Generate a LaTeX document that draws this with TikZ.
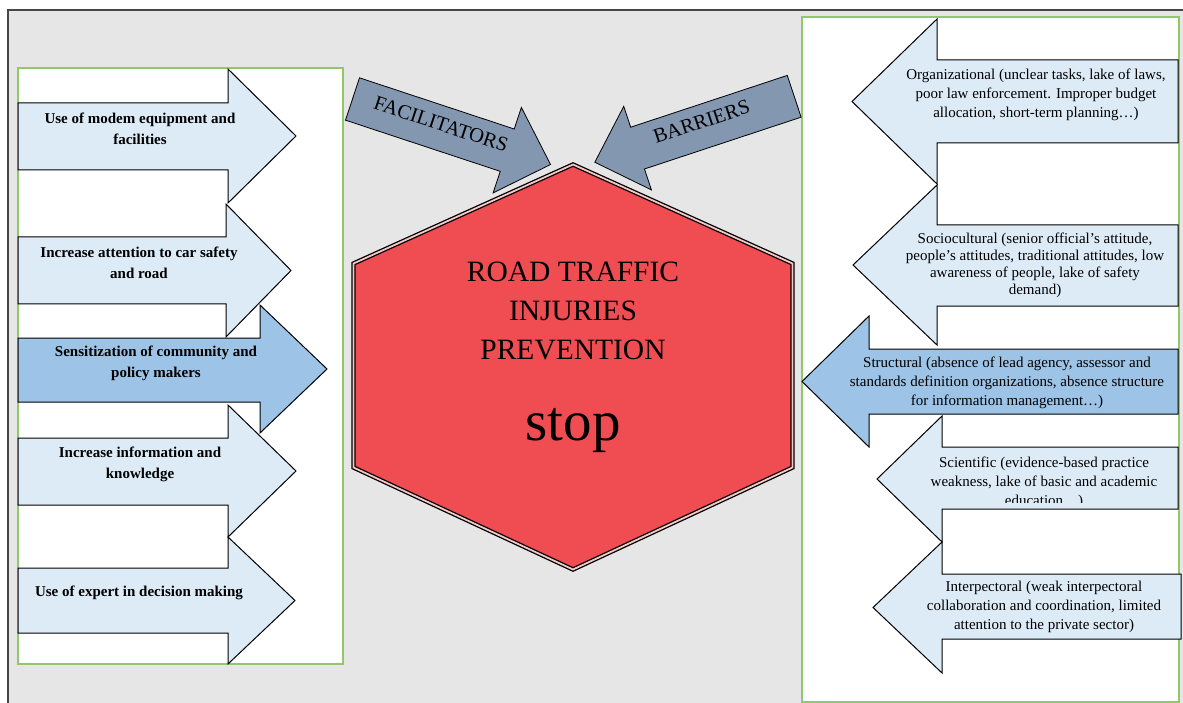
\documentclass[tikz,border=0pt]{standalone}
\usepackage{fontspec}
\setmainfont{Liberation Serif}
\definecolor{bggray}{RGB}{230,230,230}
\definecolor{framegray}{RGB}{70,70,70}
\definecolor{boxgreen}{RGB}{146,200,105}
\definecolor{lightblue}{RGB}{221,235,247}
\definecolor{midblue}{RGB}{157,195,230}
\definecolor{slate}{RGB}{132,151,176}
\definecolor{stopred}{RGB}{239,77,82}
\definecolor{gappink}{RGB}{245,200,200}
% #1 style, #2 x of flat end, #3 body top, #4 body bottom, #5 x of head base, #6 head top, #7 head bottom, #8 x of tip
\newcommand{\blockarrow}[8]{%
  \draw[#1] (#2,#3) -- (#5,#3) -- (#5,#6) -- (#8,{(#6+#7)/2}) -- (#5,#7) -- (#5,#4) -- (#2,#4) -- cycle;}
\tikzset{
  pale/.style={draw=black, line width=1, fill=lightblue, line join=miter},
  strong/.style={draw=black, line width=1, fill=midblue, line join=miter},
  slatearrow/.style={draw=black, line width=0.8, fill=slate, line join=miter},
  greenbox/.style={draw=boxgreen, line width=1.3, fill=white},
  lefttext/.style={align=center, inner sep=0, font=\bfseries\fontsize{15}{21}\selectfont},
  righttext/.style={align=center, inner sep=0, font=\fontsize{15}{19}\selectfont},
  hextext/.style={anchor=base, inner sep=0, font=\fontsize{29.5}{34}\selectfont},
  bigtext/.style={inner sep=0, font=\fontsize{20.5}{24}\selectfont, transform shape}
}
\begin{document}
\begin{tikzpicture}[x=1pt, y=-1pt]
\clip (0,0) rectangle (1183,703);
\fill[white] (0,0) rectangle (1183,703);
\draw[framegray, line width=2, fill=bggray] (8,10) rectangle (1200,720);

% left panel
\draw[greenbox] (18,68) rectangle (343,664);
\blockarrow{pale}{18}{103}{170}{228}{69}{203}{296}
\blockarrow{strong}{18}{338}{402}{260}{305}{433}{327}
\blockarrow{pale}{18}{237}{304}{226}{204}{337}{291}
\blockarrow{pale}{18}{438}{505}{228}{405}{537}{296}
\blockarrow{pale}{18}{568}{633}{228}{537}{664}{295}
\node[lefttext] (f1) at (140,128.5) {Use of modem equipment and\\facilities};
\node[lefttext] (f2) at (139,262.5) {Increase attention to car safety\\and road};
\node[lefttext] (f3) at (156,363) {Sensitization of community and\\policy makers};
\node[lefttext] (f4) at (140,464) {Increase information and\\knowledge};
\node[lefttext] (f5) at (139,593) {Use of expert in decision making};

% right panel
\draw[greenbox] (802,17) rectangle (1179,702);
\blockarrow{pale}{1178}{60}{143}{937}{19}{184}{852}
\blockarrow{pale}{1178}{225}{306}{937}{185}{345}{853}
\blockarrow{strong}{1178}{349}{414}{869}{316}{447}{802}
\blockarrow{pale}{1178}{447}{509}{942}{416}{542}{877}
\blockarrow{pale}{1181}{574}{639}{942}{542}{673}{873}
\node[righttext] (b1) at (1036,95) {Organizational (unclear tasks, lake of laws,\\poor law enforcement. Improper budget\\allocation, short-term planning…)};
\node[righttext, font=\fontsize{15}{17}\selectfont] (b2) at (1035,265.5) {Sociocultural (senior official’s attitude,\\people’s attitudes, traditional attitudes, low\\awareness of people, lake of safety\\demand)};
\node[righttext] (b3) at (1007,382.5) {Structural (absence of lead agency, assessor and\\standards definition organizations, absence structure\\for information management…)};
\begin{scope}
  \clip (850,416) rectangle (1180,502.5);
  \node[righttext] (b4) at (1044,482.5) {Scientific (evidence-based practice\\weakness, lake of basic and academic\\education…)};
\end{scope}
\node[righttext] (b5) at (1044,607) {Interpectoral (weak interpectoral\\collaboration and coordination, limited\\attention to the private sector)};

% central stop sign
\draw[draw=black, line width=1.3, double=gappink, double distance=1.8, fill=stopred]
  (573,164.5) -- (792.5,263.5) -- (792.5,467.5) -- (573,569.5) -- (353.5,467.5) -- (353.5,263.5) -- cycle;
\node[hextext] (h1) at (573,281.7) {ROAD TRAFFIC};
\node[hextext] (h2) at (573,320.5) {INJURIES};
\node[hextext] (h3) at (573,359.5) {PREVENTION};
\node[anchor=base, inner sep=0, font=\fontsize{57}{60}\selectfont] (stop) at (573,440) {stop};

% facilitators / barriers arrows
\begin{scope}[shift={(352.5,99)}, rotate=-18.3]
  \draw[slatearrow] (0,-22.3) -- (163,-22.3) -- (163,-45) -- (208.6,0) -- (163,45) -- (163,22.3) -- (0,22.3) -- cycle;
  \node[bigtext] (fac) at (92,-4) {FACILITATORS};
\end{scope}
\begin{scope}[shift={(794.2,96.3)}, rotate=18.3]
  \draw[slatearrow] (0,-22) -- (-165,-22) -- (-165,-44) -- (-210,0) -- (-165,44) -- (-165,22) -- (0,22) -- cycle;
  \node[bigtext] (bar) at (-96,-5) {BARRIERS};
\end{scope}
\end{tikzpicture}
\end{document}
